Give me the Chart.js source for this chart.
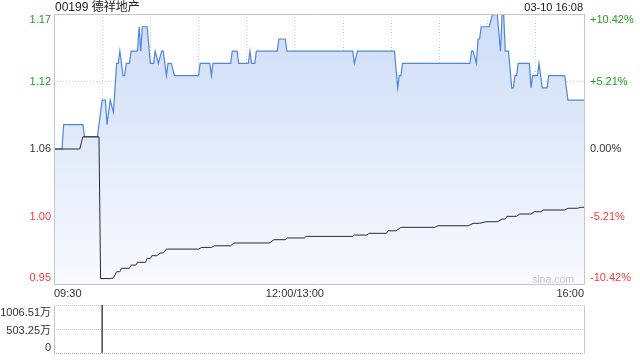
<!DOCTYPE html>
<html><head><meta charset="utf-8">
<script src="https://cdn.jsdelivr.net/npm/chart.js@4/dist/chart.umd.min.js"></script>
<style>
html,body{margin:0;padding:0;background:#fff;width:640px;height:360px;overflow:hidden;}
#wrap{position:relative;width:640px;height:360px;}
canvas{position:absolute;left:0;}
.t{position:absolute;font-family:"Liberation Sans",Arial,"Noto Sans CJK SC",sans-serif;white-space:nowrap;}
</style></head><body>
<div id="wrap">
<canvas id="main" width="640" height="300" style="top:0;width:640px;height:300px"></canvas>
<canvas id="vol" width="640" height="60" style="top:300px;width:640px;height:60px"></canvas>
<div class="t" id="title" style="left:55px;top:0;font-size:12px;line-height:14px;color:#222"></div>
<div class="t" id="stamp" style="right:57px;top:0;font-size:11px;line-height:14px;color:#222"></div>
<div class="t" id="wm" style="left:532px;top:272px;font-size:10.5px;line-height:14px;color:#c8c8c8"></div>
</div>
<script>
// ---- data ----
const stockTitle = '00199 德祥地产';
const stampText = '03-10 16:08';
const watermark = 'sina.com';
const prevClose = 1.06;
const rangePct = 10.42;

// trading minutes since 09:30 (lunch break removed), 0..330
const gridMinutes = [0, 30, 60, 90, 120, 150, 180, 210, 240, 270, 300, 330];
const xTickMinutes = [0, 150, 330];
const xTickLabels = ['09:30', '12:00/13:00', '16:00'];

const pctTicks = [10.42, 5.21, 0, -5.21, -10.42];
const priceTickLabels = ['1.17', '1.12', '1.06', '1.00', '0.95'];
const pctTickLabels = ['+10.42%', '+5.21%', '0.00%', '-5.21%', '-10.42%'];

const priceMinutes = [0,5,6,18,19,27,30,32,33,35,37,39,40,41,43,44,45,47,48,52,53,54,55,58,60,62,63,65,67,68,70,71,73,75,90,91,97,98,99,110,111,114,115,121,122,123,125,126,139,140,144,145,186,187,189,212,214,215,216,217,259,260,261,263,264,265,266,271,273,276,278,279,280,281,283,285,286,287,288,289,296,297,298,301,302,304,307,308,318,320,330];
const priceValues  = [1.06,1.06,1.08,1.08,1.07,1.07,1.10,1.10,1.08,1.10,1.09,1.13,1.13,1.14,1.12,1.12,1.13,1.13,1.14,1.14,1.16,1.14,1.16,1.16,1.13,1.13,1.14,1.13,1.14,1.14,1.12,1.13,1.13,1.12,1.12,1.13,1.13,1.12,1.13,1.13,1.14,1.14,1.13,1.13,1.14,1.13,1.13,1.14,1.14,1.15,1.15,1.14,1.14,1.13,1.14,1.14,1.11,1.12,1.12,1.13,1.13,1.14,1.14,1.13,1.15,1.15,1.16,1.16,1.17,1.17,1.14,1.17,1.17,1.14,1.14,1.11,1.11,1.12,1.12,1.13,1.13,1.11,1.12,1.12,1.13,1.11,1.11,1.12,1.12,1.10,1.10];

const avgMinutes = [0,16,18,28,29,35,37,39,41,42,47,48,51,52,57,58,60,61,64,66,68,70,90,92,98,100,110,112,134,137,144,145,156,157,186,187,195,196,207,208,213,216,237,239,258,261,265,269,276,279,281,282,288,290,297,299,303,305,318,320,326,328,330];
const avgValues  = [1.06,1.06,1.07,1.07,0.954,0.954,0.9544,0.9596,0.9596,0.9624,0.9624,0.965,0.965,0.9673,0.9673,0.9705,0.9705,0.9727,0.9727,0.9749,0.9749,0.9781,0.9781,0.9795,0.9795,0.9808,0.9808,0.9831,0.9831,0.9858,0.9858,0.9872,0.9872,0.9885,0.9885,0.9896,0.9896,0.991,0.991,0.9931,0.9931,0.9959,0.9959,0.9972,0.9972,0.9992,0.9992,1.0005,1.0005,1.0027,1.0027,1.0049,1.0049,1.0068,1.0068,1.0087,1.0087,1.0101,1.0101,1.0115,1.0115,1.0123,1.0123];

const volMinutes = [30];
const volValues = [1006.51];
const volTicks = [1006.51, 503.25, 0];
const volTickLabels = ['1006.51万', '503.25万', '0'];

// ---- styling ----
const FONT = '"Liberation Sans", Arial, "Noto Sans CJK SC", sans-serif';
const GREEN = '#22a022', RED = '#f23a3a', DARK = '#333';
Chart.defaults.font.family = FONT;

document.getElementById('title').textContent = stockTitle;
document.getElementById('stamp').textContent = stampText;
document.getElementById('wm').textContent = watermark;

const pts = (xs, ys) => xs.map((x, i) => ({x, y: ys[i]}));

function sideLabels(cfg) {
  return {
    id: 'sideLabels',
    afterDraw(chart) {
      const {ctx, chartArea: a} = chart;
      const s = chart.scales.y;
      ctx.save();
      ctx.font = cfg.font;
      ctx.textBaseline = 'middle';
      cfg.values.forEach((v, i) => {
        const y = s.getPixelForValue(v) + cfg.shift[i];
        ctx.fillStyle = cfg.colors[i];
        if (cfg.left) { ctx.textAlign = 'right'; ctx.fillText(cfg.left[i], a.left - 3, y); }
        if (cfg.right) { ctx.textAlign = 'left'; ctx.fillText(cfg.right[i], a.right + 6, y); }
      });
      ctx.restore();
    }
  };
}
function frame(sides) {
  return {
    id: 'frame',
    afterDraw(chart) {
      const {ctx, chartArea: a} = chart;
      const l = Math.round(a.left) + 0.5, r = Math.round(a.right) + 0.5;
      const t = Math.round(a.top) + 0.5, b = Math.round(a.bottom) + 0.5;
      ctx.save();
      ctx.strokeStyle = '#c6c6c6';
      ctx.lineWidth = 1;
      ctx.beginPath();
      if (sides.includes('l')) { ctx.moveTo(l, t); ctx.lineTo(l, b); }
      if (sides.includes('r')) { ctx.moveTo(r, t); ctx.lineTo(r, b); }
      if (sides.includes('t')) { ctx.moveTo(l, t); ctx.lineTo(r, t); }
      if (sides.includes('b')) { ctx.moveTo(l, b); ctx.lineTo(r, b); }
      ctx.stroke();
      ctx.restore();
    }
  };
}

const priceTickValues = pctTicks.map(p => prevClose * (1 + p / 100));
const pctColors = pctTicks.map(p => p > 0 ? GREEN : (p < 0 ? RED : DARK));

new Chart(document.getElementById('main'), {
  type: 'line',
  data: {
    datasets: [
      { data: pts(avgMinutes, avgValues), borderColor: '#2b2b2b', borderWidth: 1, pointRadius: 0, fill: false, tension: 0 },
      { data: pts(priceMinutes, priceValues), borderColor: '#4f86e0', borderWidth: 1.2, pointRadius: 0, tension: 0,
        fill: 'start',
        backgroundColor: (c) => {
          const a = c.chart.chartArea;
          if (!a) return '#e4ecfb';
          const g = c.chart.ctx.createLinearGradient(0, a.top, 0, a.bottom);
          g.addColorStop(0, '#cddcf6');
          g.addColorStop(1, '#f8faff');
          return g;
        } }
    ]
  },
  options: {
    responsive: false, animation: false, events: [],
    layout: { padding: { top: 14, right: 56, left: 0, bottom: 0 } },
    plugins: { legend: { display: false }, tooltip: { enabled: false } },
    scales: {
      x: {
        type: 'linear', min: 0, max: 330,
        afterBuildTicks: s => { s.ticks = gridMinutes.map(v => ({value: v})); },
        ticks: {
          autoSkip: false, maxRotation: 0, align: 'inner', padding: 3, color: DARK,
          font: { size: 11 },
          callback: v => { const i = xTickMinutes.indexOf(v); return i >= 0 ? xTickLabels[i] : ''; }
        },
        grid: { color: '#cfcfcf', drawTicks: false, lineWidth: 1 },
        border: { display: false, dash: [1, 2] },
        afterFit: s => { s.height = 16; }
      },
      y: {
        min: priceTickValues[priceTickValues.length - 1], max: priceTickValues[0],
        afterBuildTicks: s => { s.ticks = priceTickValues.map(v => ({value: v})); },
        ticks: { display: false },
        grid: { color: c => pctTicks[c.index] === 0 ? '#a6a6a6' : '#cfcfcf', drawTicks: false, lineWidth: 1 },
        border: { display: false, dash: c => pctTicks[c.index] === 0 ? [4, 3] : [1, 2] },
        afterFit: s => { s.width = 54; }
      }
    }
  },
  plugins: [
    frame('lrtb'),
    sideLabels({ font: '11px ' + FONT, values: priceTickValues, shift: [6, 0, 0, 0, -6],
      colors: pctColors, left: priceTickLabels, right: pctTickLabels })
  ]
});

new Chart(document.getElementById('vol'), {
  type: 'bar',
  data: {
    datasets: [{ data: pts(volMinutes, volValues), backgroundColor: '#555', barThickness: 1, grouped: false }]
  },
  options: {
    responsive: false, animation: false, events: [],
    layout: { padding: { top: 5, right: 56, left: 0, bottom: 7 } },
    plugins: { legend: { display: false }, tooltip: { enabled: false } },
    scales: {
      x: { type: 'linear', min: 0, max: 330, display: false, offset: false },
      y: {
        min: 0, max: volTicks[0],
        afterBuildTicks: s => { s.ticks = volTicks.map(v => ({value: v})); },
        ticks: { display: false },
        grid: { color: c => volTicks[c.index] === 0 ? '#a8a8a8' : '#c8c8c8', drawTicks: false, lineWidth: 1 },
        border: { display: false, dash: [1, 1] },
        afterFit: s => { s.width = 54; }
      }
    }
  },
  plugins: [
    frame('lr'),
    sideLabels({ font: '11px ' + FONT, values: volTicks, shift: [8, 2, -5],
      colors: [DARK, DARK, DARK], left: volTickLabels })
  ]
});
</script>
</body></html>
